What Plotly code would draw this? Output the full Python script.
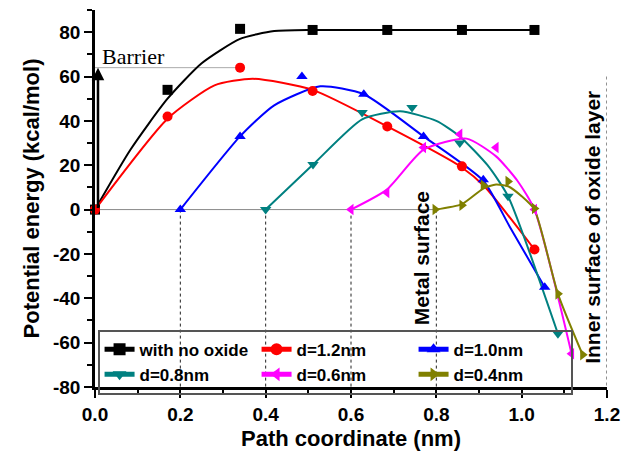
import plotly.graph_objects as go

# ---------------- data ----------------
series_names = ["with no oxide", "d=1.2nm", "d=1.0nm", "d=0.8nm", "d=0.6nm", "d=0.4nm"]
series_colors = ["#000000", "#FF0000", "#0000FF", "#008080", "#FF00FF", "#808000"]
series_symbols = ["square", "circle", "triangle-up", "triangle-down", "triangle-left", "triangle-right"]

# computed points (markers)
no_oxide_x = [0.0, 0.17, 0.34, 0.51, 0.685, 0.86, 1.03]
no_oxide_y = [0.0, 54.0, 81.5, 81.0, 81.0, 81.0, 81.0]
d12_x = [0.0, 0.17, 0.34, 0.51, 0.685, 0.86, 1.03]
d12_y = [0.0, 42.0, 64.0, 53.5, 37.5, 19.5, -18.0]
d10_x = [0.2, 0.34, 0.485, 0.63, 0.77, 0.91, 1.054]
d10_y = [0.0, 33.0, 60.0, 52.0, 33.0, 13.5, -35.0]
d08_x = [0.4, 0.511, 0.626, 0.743, 0.855, 0.968, 1.085]
d08_y = [0.0, 20.3, 43.8, 46.0, 30.0, 6.0, -56.0]
d06_x = [0.6, 0.684, 0.77, 0.855, 0.94, 1.03, 1.117]
d06_y = [0.0, 7.7, 28.0, 34.0, 28.0, 0.0, -65.0]
d04_x = [0.797, 0.86, 0.91, 0.968, 1.03, 1.085, 1.143]
d04_y = [0.0, 2.0, 11.0, 12.7, 0.5, -38.0, -65.5]

# fitted curves (as drawn in the reference)
no_oxide_cx = [0.0, 0.083, 0.17, 0.25, 0.34, 0.42, 0.51, 0.685, 0.86, 1.03]
no_oxide_cy = [0.0, 27.0, 50.0, 66.0, 77.0, 80.5, 81.0, 81.0, 81.0, 81.0]
d12_cx = [0.0, 0.17, 0.28, 0.37, 0.51, 0.685, 0.86, 0.913, 1.03]
d12_cy = [0.0, 41.0, 56.0, 59.0, 54.0, 37.5, 19.0, 10.4, -18.0]
d10_cx = [0.2, 0.34, 0.42, 0.528, 0.63, 0.77, 0.91, 0.972, 1.054]
d10_cy = [0.0, 33.0, 47.0, 55.6, 52.0, 33.0, 13.0, -7.7, -35.0]
d08_cx = [0.4, 0.511, 0.626, 0.715, 0.80, 0.855, 0.92, 0.968, 1.085]
d08_cy = [0.0, 20.3, 40.7, 44.3, 40.0, 33.0, 20.0, 6.0, -56.0]
d06_cx = [0.6, 0.684, 0.77, 0.871, 0.94, 0.99, 1.03, 1.117]
d06_cy = [0.0, 9.0, 27.0, 32.0, 24.0, 13.0, 0.0, -65.0]
d04_cx = [0.797, 0.86, 0.91, 0.94, 0.968, 1.0, 1.03, 1.085, 1.143]
d04_cy = [0.0, 2.5, 9.5, 11.3, 10.5, 6.0, 0.0, -38.0, -65.5]

marker_x = [no_oxide_x, d12_x, d10_x, d08_x, d06_x, d04_x]
marker_y = [no_oxide_y, d12_y, d10_y, d08_y, d06_y, d04_y]
curve_x = [no_oxide_cx, d12_cx, d10_cx, d08_cx, d06_cx, d04_cx]
curve_y = [no_oxide_cy, d12_cy, d10_cy, d08_cy, d06_cy, d04_cy]

# reference lines / labels
surface_x = [0.2, 0.4, 0.6, 0.8]      # starting positions (metal surfaces)
oxide_inner_x = 1.2
oxide_line_top = 60
barrier_value = 64
barrier_end_x = 0.34
metal_surface_x = 0.8

x_ticks = [0.0, 0.2, 0.4, 0.6, 0.8, 1.0, 1.2]
x_tick_text = ["0.0", "0.2", "0.4", "0.6", "0.8", "1.0", "1.2"]
y_ticks = [-80, -60, -40, -20, 0, 20, 40, 60, 80]
y_tick_text = ["-80", "-60", "-40", "-20", "0", "20", "40", "60", "80"]

FONT = "Liberation Sans, Arial, sans-serif"

fig = go.Figure()

for i in range(len(series_names)):
    c = series_colors[i]
    fig.add_trace(go.Scatter(
        x=curve_x[i], y=curve_y[i], mode="lines",
        line=dict(color=c, width=2, shape="spline", smoothing=0.6),
        showlegend=False, hoverinfo="skip", cliponaxis=False))
for i in range(len(series_names)):
    c = series_colors[i]
    fig.add_trace(go.Scatter(
        x=marker_x[i], y=marker_y[i], mode="markers",
        marker=dict(color=c, symbol=series_symbols[i], size=10, line=dict(width=0)),
        showlegend=False, cliponaxis=False, name=series_names[i]))
for i in range(len(series_names)):
    c = series_colors[i]
    fig.add_trace(go.Scatter(
        x=[None], y=[None], mode="lines+markers", name=series_names[i],
        line=dict(color=c, width=2.5),
        marker=dict(color=c, symbol=series_symbols[i], size=10)))

shapes = []
for sx in surface_x:
    shapes.append(dict(type="line", xref="x", yref="y", x0=sx, x1=sx, y0=0, y1=-80,
                       line=dict(color="#222", width=1, dash="dot"), layer="below"))
shapes.append(dict(type="line", xref="x", yref="y", x0=oxide_inner_x, x1=oxide_inner_x,
                   y0=oxide_line_top, y1=-80, line=dict(color="#222", width=1, dash="dot"), layer="below"))
shapes.append(dict(type="line", xref="x", yref="y", x0=0, x1=metal_surface_x, y0=0, y1=0,
                   line=dict(color="#888", width=1), layer="below"))
shapes.append(dict(type="line", xref="x", yref="y", x0=0, x1=barrier_end_x,
                   y0=barrier_value, y1=barrier_value,
                   line=dict(color="#aaa", width=1), layer="below"))

annotations = [
    dict(x=0.007, y=barrier_value, ax=0.007, ay=0, xref="x", yref="y", axref="x", ayref="y",
         text="", showarrow=True, arrowhead=2, arrowsize=1, arrowwidth=2.5, arrowcolor="#000"),
    dict(x=0.012, y=barrier_value, xref="x", yref="y", text="Barrier", showarrow=False,
         xanchor="left", yanchor="bottom", yshift=-3,
         font=dict(family="Liberation Serif, Times New Roman, serif", size=22, color="#000")),
    dict(x=metal_surface_x, y=-22, xref="x", yref="y", text="<b>Metal surface</b>",
         showarrow=False, textangle=-90, xanchor="right", yanchor="middle", xshift=-1,
         font=dict(family=FONT, size=21, color="#000")),
    dict(x=oxide_inner_x, y=-8, xref="x", yref="y", text="<b>Inner surface of oxide layer</b>",
         showarrow=False, textangle=-90, xanchor="right", yanchor="middle", xshift=-1,
         font=dict(family=FONT, size=21, color="#000")),
]

fig.update_layout(
    width=632, height=452,
    margin=dict(l=95, r=25, t=10, b=65, autoexpand=False),
    paper_bgcolor="white", plot_bgcolor="white",
    font=dict(family=FONT, size=19, color="#000"),
    shapes=shapes, annotations=annotations,
    legend=dict(orientation="h", x=0.005, y=0.152, xanchor="left", yanchor="top",
                bgcolor="rgba(0,0,0,0)", bordercolor="#555", borderwidth=2,
                entrywidth=112, entrywidthmode="pixels",
                font=dict(family=FONT, size=17, color="#000", weight="bold"),
                tracegroupgap=0, itemsizing="constant"),
    xaxis=dict(range=[0, 1.2], tickvals=x_ticks, ticktext=x_tick_text, automargin=False,
               showgrid=False, zeroline=False, showline=True, linecolor="#000", linewidth=2.5,
               ticks="outside", ticklen=8, tickwidth=2, tickcolor="#000",
               minor=dict(dtick=0.1, ticks="outside", ticklen=5, tickwidth=2, tickcolor="#000"),
               tickfont=dict(family=FONT, size=19, weight="bold"),
               title=dict(text="<b>Path coordinate (nm)</b>", font=dict(family=FONT, size=22), standoff=8)),
    yaxis=dict(range=[-80, 90], tickvals=y_ticks, ticktext=y_tick_text, automargin=False,
               showgrid=False, zeroline=False, showline=True, linecolor="#000", linewidth=2.5,
               ticks="outside", ticklen=8, tickwidth=2, tickcolor="#000",
               minor=dict(dtick=10, ticks="outside", ticklen=5, tickwidth=2, tickcolor="#000"),
               tickfont=dict(family=FONT, size=19, weight="bold"),
               title=dict(text="<b>Potential energy (kcal/mol)</b>", font=dict(family=FONT, size=22), standoff=8)),
)

fig.write_html("out.html", config={"displayModeBar": False},
               post_script="document.body.style.margin='0';document.body.style.padding='0';")
